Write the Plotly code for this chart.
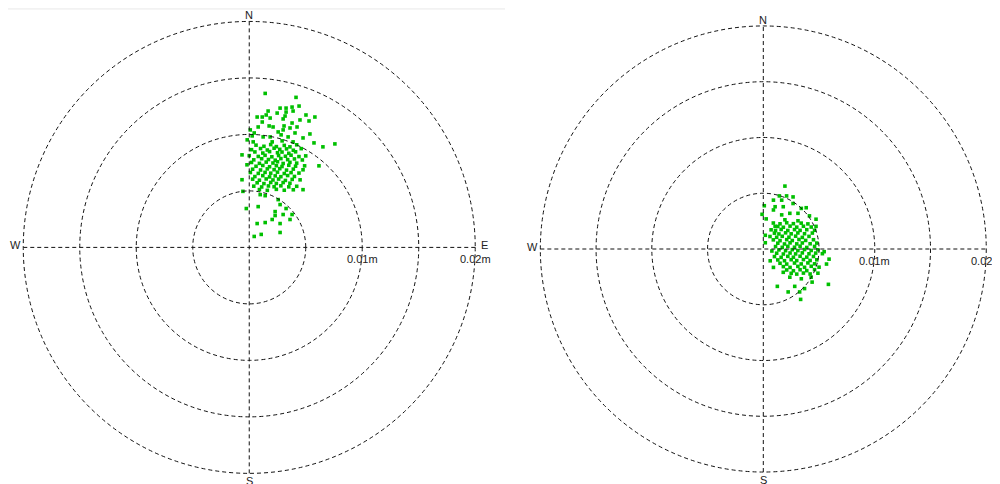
import plotly.graph_objects as go

# Displacement samples in millimetres: (east, north)
left_upper = [(1.41,13.63),(4.14,13.28),(4.41,12.51),(2.73,12.33),(3.26,12.33),(3.79,12.42),(1.67,12.07),
              (3.26,11.98),(3.88,12.07),(2.47,11.89),(5.02,11.72),(5.81,11.54),(0.70,11.54),(1.15,11.54),
              (1.50,11.72),(1.85,11.45),(3.00,11.37),(3.17,11.63),(4.49,11.28),(5.29,11.19),(1.15,11.10),
              (1.76,10.75),(3.79,11.01),(3.08,10.75),(3.61,10.57),(4.23,10.66),(0.79,10.66),(2.11,10.66),
              (0.09,10.40),(3.00,10.40),(0.44,10.13),(2.56,10.22),(4.05,10.13),(5.37,10.04),(0.26,9.87),
              (1.23,9.78),(1.85,9.78),(2.82,9.96),(3.44,9.78),(4.76,9.69),(5.73,9.25),(7.58,9.16),
              (6.52,8.90),(-0.18,9.52),(0.35,9.34),(2.03,9.34),(2.91,9.43),(3.88,9.34)]
left_core = [(0.6,9.05),(1.3,8.95),(1.9,9.1),(2.4,8.92),(3.1,9.03),(3.6,8.9),(4.2,9.08),
             (0.2,8.65),(1.0,8.75),(1.6,8.62),(2.2,8.78),(2.7,8.68),(3.3,8.72),(3.9,8.6),(4.6,8.74),
             (0.5,8.45),(1.2,8.35),(1.8,8.48),(2.5,8.38),(2.9,8.44),(3.5,8.33),(4.1,8.46),
             (0.0,8.12),(0.8,8.05),(1.4,8.15),(2.0,8.02),(2.6,8.13),(3.2,8.07),(3.7,8.16),(4.4,8.04),(5.0,8.1),
             (0.4,7.75),(1.1,7.85),(1.7,7.78),(2.3,7.72),(2.8,7.86),(3.4,7.77),(4.0,7.83),(4.7,7.74),
             (0.2,7.52),(0.9,7.44),(1.5,7.55),(2.1,7.47),(2.5,7.58),(3.0,7.43),(3.6,7.53),(4.2,7.46),
             (0.6,7.18),(1.2,7.25),(1.8,7.14),(2.4,7.23),(2.9,7.16),(3.5,7.27),(4.1,7.19),(4.9,7.22),
             (0.3,6.92),(1.0,6.85),(1.6,6.95),(2.2,6.88),(2.7,6.97),(3.3,6.84),(3.9,6.93),
             (0.1,6.63),(0.8,6.55),(1.4,6.64),(1.9,6.57),(2.5,6.66),(3.1,6.54),(3.7,6.62),(4.4,6.58),
             (0.5,6.27),(1.2,6.35),(1.8,6.24),(2.3,6.33),(2.8,6.26),(3.4,6.36),(4.0,6.28),
             (0.3,6.04),(0.9,5.95),(1.5,6.06),(2.1,5.97),(2.6,6.05),(3.2,5.93),(3.8,6.02),(4.5,5.98),
             (0.7,5.72),(1.3,5.65),(1.9,5.75),(2.4,5.66),(3.0,5.74),(3.6,5.68),
             (0.4,5.42),(1.1,5.35),(1.7,5.44),(2.2,5.37),(2.8,5.45),(3.5,5.36),(4.2,5.41),
             (0.9,5.12),(1.6,5.05),(2.4,5.14),(3.1,5.06),(3.9,5.1)]
left_lower = [(-0.64,8.19),(-0.20,7.31),(-0.64,5.99),(-0.56,4.96),(-0.26,3.44),(6.17,7.22),(4.76,6.87),
              (4.76,5.11),(0.97,4.67),(1.41,4.58),(2.56,4.23),(2.73,3.79),(0.79,3.61),(3.26,3.44),
              (2.29,3.17),(2.03,2.47),(2.29,2.82),(3.00,2.91),(3.79,2.91),(3.61,2.47),(2.73,2.11),
              (0.70,2.11),(1.41,2.20),(2.73,1.32),(1.06,1.15),(0.44,0.97)]

right_upper = [(1.94,5.64),(1.44,4.76),(2.09,4.76),(2.67,4.67),(0.91,4.38),(1.65,4.38),(0.09,3.88),
               (1.06,3.79),(1.79,3.79),(2.67,4.08),(3.41,3.64),(3.85,3.70),(-0.11,3.11),(0.91,3.50),
               (1.65,3.06),(2.38,3.20),(3.11,3.20),(4.14,2.97),(0.26,2.70),(1.94,2.62),(3.11,2.53),
               (4.73,2.67),(1.06,2.03),(4.73,2.03),(0.18,1.23),(0.18,0.56),(0.77,-0.18),(0.62,-1.06),
               (0.91,-1.65),(5.46,-0.24),(5.90,-0.91),(5.67,-1.35)]
right_core = [(0.9,2.33),(1.5,2.26),(2.1,2.35),(2.7,2.27),(3.4,2.32),(4.0,2.25),
              (1.3,2.02),(1.8,1.95),(2.4,2.05),(3.0,1.96),(3.6,2.04),(4.3,1.97),
              (0.7,1.72),(1.1,1.65),(1.6,1.75),(2.2,1.66),(2.8,1.74),(3.3,1.67),(3.9,1.73),(4.6,1.68),
              (1.0,1.42),(1.4,1.35),(2.0,1.45),(2.5,1.36),(3.1,1.44),(3.7,1.37),(4.4,1.43),
              (0.6,1.12),(1.2,1.05),(1.7,1.14),(2.3,1.06),(2.9,1.15),(3.5,1.04),(4.1,1.13),
              (0.9,0.82),(1.5,0.75),(2.1,0.84),(2.6,0.76),(3.2,0.85),(3.8,0.77),(4.5,0.83),
              (1.3,0.52),(1.9,0.45),(2.4,0.55),(3.0,0.46),(3.5,0.54),(4.2,0.47),(4.8,0.53),
              (1.1,0.22),(1.7,0.15),(2.2,0.24),(2.8,0.16),(3.3,0.25),(3.9,0.14),(4.6,0.23),
              (1.4,-0.08),(2.0,-0.15),(2.6,-0.06),(3.1,-0.14),(3.7,-0.05),(4.3,-0.13),(4.9,-0.07),
              (1.2,-0.38),(1.8,-0.45),(2.4,-0.36),(2.9,-0.44),(3.5,-0.35),(4.1,-0.43),(4.7,-0.37),(5.3,-0.42),
              (1.0,-0.68),(1.6,-0.75),(2.2,-0.66),(2.7,-0.74),(3.3,-0.65),(3.9,-0.73),(4.5,-0.67),
              (1.3,-0.98),(1.9,-1.05),(2.5,-0.96),(3.0,-1.04),(3.6,-0.95),(4.2,-1.03),(4.8,-0.97),
              (1.5,-1.28),(2.1,-1.35),(2.8,-1.26),(3.4,-1.34),(4.0,-1.25),(4.6,-1.33),
              (1.8,-1.58),(2.4,-1.65),(3.1,-1.56),(3.7,-1.64),(4.3,-1.55),(5.0,-1.63),
              (2.1,-1.88),(2.7,-1.95),(3.3,-1.86),(3.9,-1.94),(4.6,-1.85),
              (2.5,-2.18),(3.0,-2.25),(3.6,-2.16),(4.2,-2.24),(4.9,-2.17)]
right_lower = [(5.84,-3.17),(1.79,-2.09),(2.38,-2.53),(3.41,-2.67),(4.29,-2.53),(4.38,-2.97),
               (1.26,-3.35),(2.82,-3.35),(3.70,-3.55),(2.23,-3.85),(3.26,-3.85),(3.35,-4.52)]

ring_radii_mm = [5, 10, 15, 20]
ring_labels = {10: "0.01m", 20: "0.02m"}

left_pts = left_upper + left_core + left_lower
right_pts = right_upper + right_core + right_lower

GREEN = "#00c000"
LINE = dict(color="#111111", width=1, dash="4px,3px")
FONT = dict(family="Liberation Sans, Arial, sans-serif", size=11, color="#222222")

fig = go.Figure()
for pts, xa, ya in ((left_pts, "x", "y"), (right_pts, "x2", "y2")):
    fig.add_trace(go.Scatter(
        x=[p[0] for p in pts], y=[p[1] for p in pts], mode="markers",
        marker=dict(symbol="square", size=3.6, color=GREEN, line=dict(width=0)),
        xaxis=xa, yaxis=ya, showlegend=False, hoverinfo="skip", cliponaxis=False))

R = max(ring_radii_mm)
for xa, ya in (("x", "y"), ("x2", "y2")):
    for r in ring_radii_mm:
        fig.add_shape(type="circle", xref=xa, yref=ya, x0=-r, y0=-r, x1=r, y1=r, line=LINE)
    fig.add_shape(type="line", xref=xa, yref=ya, x0=-R, x1=R, y0=0, y1=0, line=LINE)
    fig.add_shape(type="line", xref=xa, yref=ya, x0=0, x1=0, y0=-R, y1=R, line=LINE)
    fig.add_annotation(x=0, y=R, xref=xa, yref=ya, text="N", showarrow=False,
                       xanchor="center", yanchor="bottom", yshift=-2, font=FONT)
    fig.add_annotation(x=0, y=-R, xref=xa, yref=ya, text="S", showarrow=False,
                       xanchor="center", yanchor="top", font=FONT)
    fig.add_annotation(x=-R, y=0, xref=xa, yref=ya, text="W", showarrow=False,
                       xanchor="right", yanchor="middle", yshift=2, font=FONT)
    fig.add_annotation(x=R, y=0, xref=xa, yref=ya, text="E", showarrow=False,
                       xanchor="left", yanchor="middle", xshift=4, yshift=2, font=FONT)
    for r, lab in ring_labels.items():
        fig.add_annotation(x=r, y=0, xref=xa, yref=ya, text=lab, showarrow=False,
                           xanchor="center", yanchor="middle", yshift=-12, font=FONT)

fig.add_shape(type="line", xref="paper", yref="paper", x0=0, x1=0.497, y0=0.998, y1=0.998,
              line=dict(color="#e8e8e8", width=1))

# The page body has an 8px margin; ranges are set so the rings land where the reference has them.
ax = dict(visible=False, showgrid=False, zeroline=False, fixedrange=True)
fig.update_layout(
    width=1000, height=484,
    margin=dict(l=0, r=0, t=0, b=0, pad=0),
    paper_bgcolor="white", plot_bgcolor="white",
    xaxis=dict(domain=[0, 0.5], range=[-21.35, 22.90], **ax),
    yaxis=dict(domain=[0, 1], range=[-21.65, 21.19], anchor="x", **ax),
    xaxis2=dict(domain=[0.5, 1], range=[-22.90, 21.95], anchor="y2", **ax),
    yaxis2=dict(domain=[0, 1], range=[-21.79, 21.61], anchor="x2", **ax),
    showlegend=False,
)

fig.write_html("out.html")
